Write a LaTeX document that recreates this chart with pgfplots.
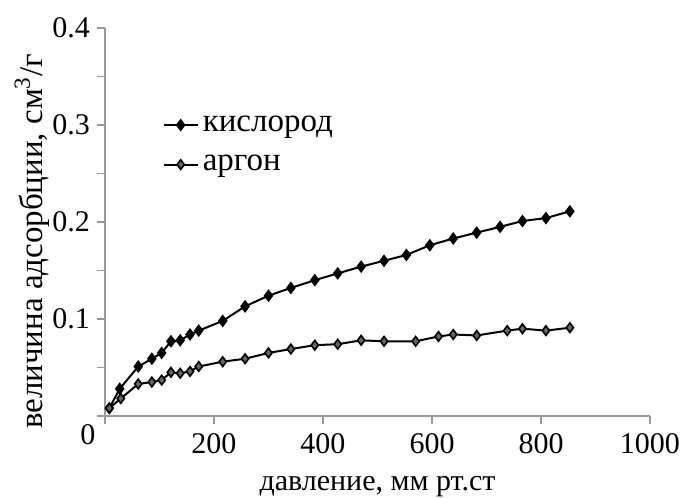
\documentclass[border=0pt]{standalone}
\usepackage{fontspec}
\setmainfont{Liberation Serif}
\usepackage{pgfplots}
\pgfplotsset{compat=1.18}
\begin{document}
\begin{tikzpicture}
\begin{axis}[
  scale only axis,
  width=272.5pt, height=194pt,
  xmin=0, xmax=1000, ymin=0, ymax=0.4,
  axis x line*=bottom, axis y line*=left,
  axis line style={-, draw=gray!80, line width=0.7pt},
  tick style={draw=gray!80, line width=0.6pt},
  tick align=outside,
  major tick length=4pt, minor tick length=4pt,
  xtick={0,200,400,600,800,1000},
  xticklabels={,200,400,600,800,1000},
  ytick={0.1,0.2,0.3,0.4},
  yticklabels={0.1,0.2,0.3,0.4},
  minor ytick={0,0.05,0.15,0.25,0.35},
  /pgf/number format/assume math mode=true,
  tick label style={font=\fontsize{15}{17}\selectfont},
  xticklabel style={yshift=-1.5pt},
  xlabel={давление, мм рт.ст},
  ylabel={величина адсорбции, см\textsuperscript{3}/г},
  xlabel style={font=\fontsize{15}{17}\selectfont, at={(axis description cs:0.5,-0.182)}, anchor=center},
  ylabel style={font=\fontsize{16.5}{18}\selectfont, at={(axis description cs:-0.134,0.45)}, anchor=center},
  legend style={draw=none, fill=none, at={(0.105,0.785)}, anchor=north west,
    font=\fontsize{16.5}{18}\selectfont, row sep=6.5pt, inner sep=0pt},
  legend cell align=left,
  clip=false,
]
\addplot[black, line width=1pt, mark=diamond*, mark size=2.4pt,
  mark options={fill=black, draw=black}] coordinates {
(8,0.008) (27,0.028) (61,0.051) (86,0.059) (104,0.065) (121,0.077) (138,0.078)
(156,0.084) (172,0.088) (216,0.098) (257,0.113) (300,0.124) (341,0.132)
(385,0.140) (427,0.147) (470,0.154) (512,0.160) (553,0.166) (596,0.176)
(639,0.183) (682,0.189) (725,0.195) (766,0.201) (809,0.204) (853,0.211)
};
\addlegendentry{кислород}
\addplot[black, line width=1pt, mark=diamond*, mark size=2.4pt,
  mark options={fill=gray!80!black, draw=black, line width=0.8pt}] coordinates {
(8,0.008) (29,0.018) (61,0.033) (86,0.035) (104,0.037) (121,0.045) (138,0.044)
(156,0.046) (172,0.051) (216,0.056) (257,0.059) (300,0.065) (341,0.069)
(385,0.073) (427,0.074) (470,0.078) (512,0.077) (570,0.077) (612,0.082)
(639,0.084) (682,0.083) (738,0.088) (766,0.090) (809,0.088) (853,0.091)
};
\addlegendentry{аргон}
\node[font=\fontsize{15}{17}\selectfont] at ([xshift=-8.5pt,yshift=-9.5pt]rel axis cs:0,0) {0};
\coordinate (SW) at (rel axis cs:0,0);
\coordinate (NE) at (rel axis cs:1,1);
\end{axis}
\pgfresetboundingbox
\path ([shift={(-52.5pt,-41pt)}]SW) rectangle ([shift={(18pt,14pt)}]NE);
\end{tikzpicture}
\end{document}
